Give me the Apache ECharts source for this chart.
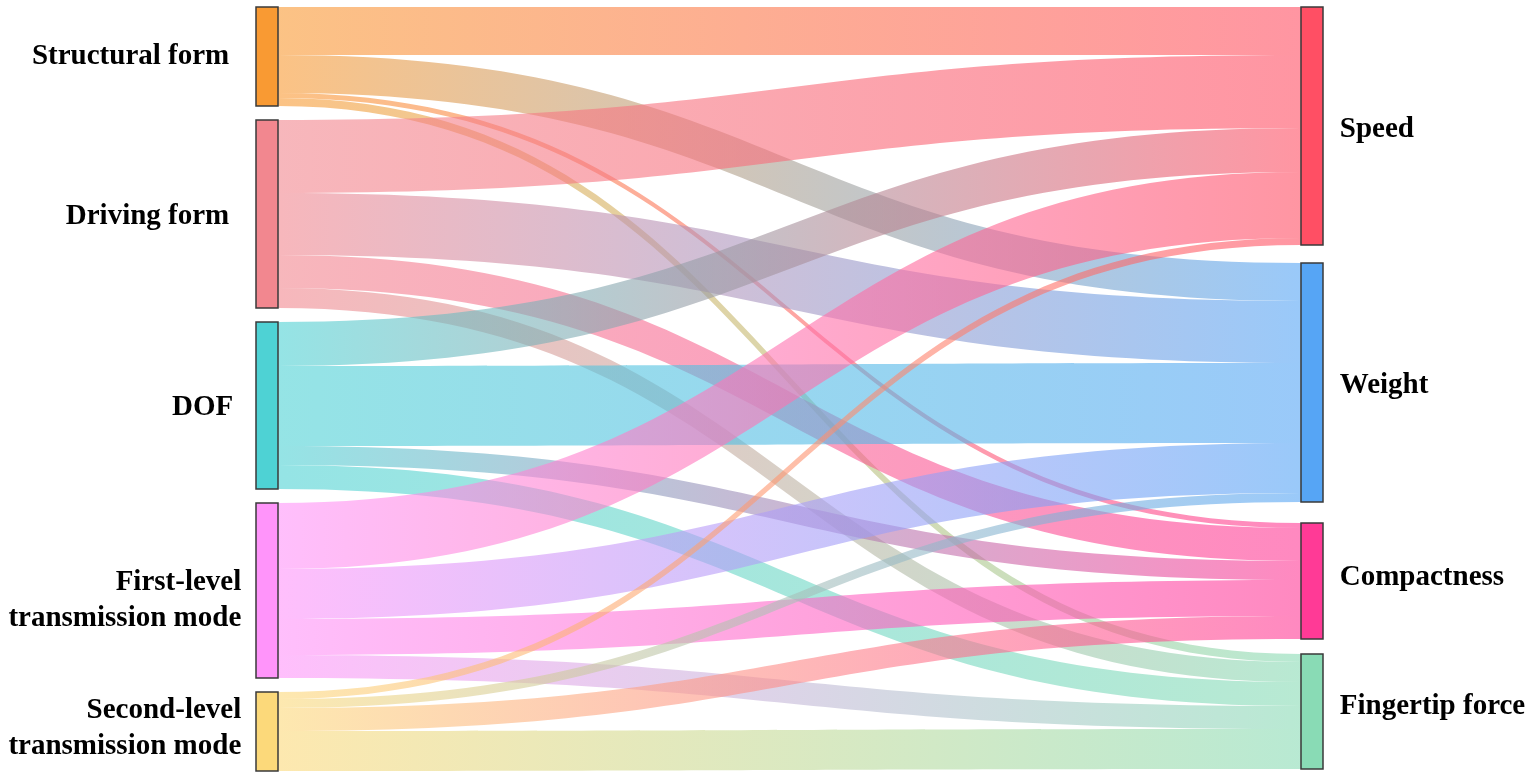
<!DOCTYPE html>
<html>
<head>
<meta charset="utf-8">
<title>Sankey</title>
<script src="https://cdn.jsdelivr.net/npm/echarts@6/dist/echarts.min.js"></script>
<style>
  html, body { margin: 0; padding: 0; background: #fff; }
  #chart { width: 1535px; height: 780px; }
</style>
</head>
<body>
<div id="chart"></div>
<script>
// left column (design factors) and right column (indicators)
const factors = ['Structural form', 'Driving form', 'DOF', 'First-level transmission mode', 'Second-level transmission mode'];
const indicators = ['Speed', 'Weight', 'Compactness', 'Fingertip force'];

// flow from each factor to each indicator, factor order as above
const toSpeed = [48, 73, 44, 66, 7];
const toWeight = [38, 62, 80, 50, 9];
const toCompactness = [5, 33, 19, 36, 23];
const toFingertip = [8, 20, 24, 23, 40];

const factorColors = ['#F99A33', '#F2878F', '#4ED2D4', '#FF94FA', '#FCD97A'];
const indicatorColors = ['#FF4F64', '#56A5F5', '#FF3A96', '#89DBB5'];

// label tweaks
const factorText = ['Structural form', 'Driving form', 'DOF', 'First-level\ntransmission mode', 'Second-level\ntransmission mode'];
const factorLabelGap = [26, 26, 22, 14, 14];
const factorLabelShift = [0, 3, 2, 10, -3];
const indicatorLabelShift = [4, 3, -3, -5];
// right column spread over the full height, like the original
const indicatorLocalY = [0, 0.3351, 0.6754, 0.8469];

var flows = [toSpeed, toWeight, toCompactness, toFingertip];

var nodes = [];
factors.forEach(function (name, i) {
  nodes.push({
    name: name,
    itemStyle: { color: factorColors[i] },
    label: {
      position: 'left',
      distance: factorLabelGap[i],
      offset: [0, factorLabelShift[i]],
      formatter: factorText[i],
      align: 'right'
    }
  });
});
indicators.forEach(function (name, i) {
  nodes.push({
    name: name,
    localY: indicatorLocalY[i],
    itemStyle: { color: indicatorColors[i] },
    label: { position: 'right', distance: 16, offset: [0, indicatorLabelShift[i]] }
  });
});

var links = [];
factors.forEach(function (src, i) {
  indicators.forEach(function (dst, j) {
    links.push({ source: src, target: dst, value: flows[j][i] });
  });
});

const sankeyOption = {
  backgroundColor: '#fff',
  animation: false,
  series: [{
    type: 'sankey',
    left: 256,
    right: 212,
    top: 7,
    bottom: 9,
    nodeWidth: 22,
    nodeGap: 14,
    layoutIterations: 0,
    draggable: false,
    emphasis: { disabled: true },
    data: nodes,
    links: links,
    itemStyle: {
      borderColor: '#3a3a3a',
      borderWidth: 1.5
    },
    lineStyle: {
      color: 'gradient',
      opacity: 0.6,
      curveness: 0.5
    },
    label: {
      color: '#000',
      fontFamily: 'Liberation Serif',
      fontWeight: 'bold',
      fontSize: 29,
      lineHeight: 36
    }
  }]
};

var myChart = echarts.init(document.getElementById('chart'));
myChart.setOption(sankeyOption);
</script>
</body>
</html>
